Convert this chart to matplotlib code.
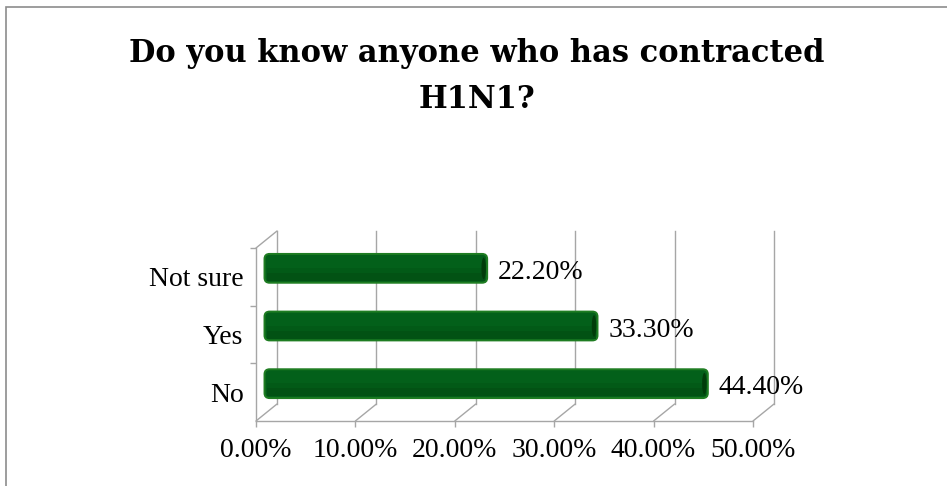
import matplotlib
matplotlib.use("Agg")
import matplotlib.pyplot as plt
import matplotlib.transforms as mtransforms
from matplotlib.patches import FancyBboxPatch, Ellipse, Rectangle

categories = ["No", "Yes", "Not sure"]
values = [44.4, 33.3, 22.2]
x_ticks = [0, 10, 20, 30, 40, 50]
x_labels = ["0.00%", "10.00%", "20.00%", "30.00%", "40.00%", "50.00%"]
title_lines = ["Do you know anyone who has contracted", "H1N1?"]

W, H, DPI = 947, 486, 100
SERIF = ["Liberation Serif", "DejaVu Serif"]
GRID = "#a6a6a6"

fig = plt.figure(figsize=(W / DPI, H / DPI), dpi=DPI)
fig.patch.set_facecolor("white")

# chart frame (only left/top edges fall inside the image)
fig.add_artist(Rectangle((6 / W, -0.1), 1.2, (H - 7) / H + 0.1,
                         transform=fig.transFigure, fill=False,
                         edgecolor="#8c8c8c", linewidth=1.2))

for line, base in zip(title_lines, (62, 108)):
    fig.text(477 / W, 1 - base / H, line, ha="center", va="baseline",
             fontsize=22, fontweight="bold", family=["DejaVu Serif"])

# front plane of the 3-D box
x0, x1, ytop, ybot = 256, 753, 248, 421
ax = fig.add_axes([x0 / W, 1 - ybot / H, (x1 - x0) / W, (ybot - ytop) / H])
ax.set_xlim(0, 50)
ax.set_ylim(-0.5, len(categories) - 0.5)
for s in ax.spines.values():
    s.set_visible(False)
ax.patch.set_visible(False)

depth_x, depth_y = 21, 17
back = ax.transData + mtransforms.ScaledTranslation(depth_x / DPI, depth_y / DPI, fig.dpi_scale_trans)
mid = ax.transData + mtransforms.ScaledTranslation(depth_x / 2 / DPI, depth_y / 2 / DPI, fig.dpi_scale_trans)

lo, hi = -0.5, len(categories) - 0.5


def depth_line(x, y):
    # connect a point on the front plane to the same point on the back wall
    ax.annotate("", xy=(x, y), xycoords=back, xytext=(x, y), textcoords="data",
                arrowprops=dict(arrowstyle="-", color=GRID, lw=1, shrinkA=0, shrinkB=0))


# back wall gridlines
for t in x_ticks:
    ax.plot([t, t], [lo, hi], color=GRID, lw=1, transform=back, clip_on=False)

# floor: front edge and depth lines
ax.plot([0, 50], [lo, lo], color=GRID, lw=1, clip_on=False)
for t in x_ticks:
    depth_line(t, lo)

# left wall
ax.plot([0, 0], [lo, hi], color=GRID, lw=1, clip_on=False)
depth_line(0, hi)

ax.set_xticks(x_ticks)
ax.set_xticklabels(x_labels, family=SERIF, fontsize=20)
ax.set_yticks([k + 0.5 for k in range(len(categories) - 1)] + [hi])
ax.set_yticklabels([])
ax.set_yticks(range(len(categories)), minor=True)
ax.set_yticklabels(categories, minor=True, family=SERIF, fontsize=20)
ax.tick_params(axis="x", length=4, width=1, color=GRID, pad=8)
ax.tick_params(axis="y", which="major", length=4, width=1, color=GRID)
ax.tick_params(axis="y", which="minor", length=0, pad=9)

# cylinder-style bars on the middle depth plane
bar_h = 0.5
px_x = (x1 - x0) / 50.0
px_y = (ybot - ytop) / len(categories)
r = 5 / px_x
aspect = px_x / px_y
for i, v in enumerate(values):
    body = FancyBboxPatch((-r * 0.4, i - bar_h / 2), v + r * 0.4, bar_h,
                          boxstyle=f"round,pad=0,rounding_size={r}",
                          mutation_aspect=aspect, facecolor="#03601a",
                          edgecolor="#1f7d22", linewidth=1.4,
                          transform=mid, clip_on=False, zorder=3)
    ax.add_patch(body)
    # two soft bands for the darker underside of the cylinder
    for frac, col in ((0.45, "#025a17"), (0.28, "#025214")):
        shade = FancyBboxPatch((0.1, i - bar_h / 2 + 0.03), v - 0.3, bar_h * frac,
                               boxstyle="square,pad=0", facecolor=col,
                               edgecolor="none", transform=mid, clip_on=False, zorder=3)
        ax.add_patch(shade)
    cap = Ellipse((v - 0.35, i), 0.45, bar_h * 0.75, facecolor="#013c0a",
                  edgecolor="none", transform=mid, clip_on=False, zorder=4)
    ax.add_patch(cap)
    ax.annotate(f"{v:.2f}%", xy=(v, i), xycoords=mid, xytext=(11, -4),
                textcoords="offset pixels", ha="left", va="center",
                family=SERIF, fontsize=20)

fig.savefig("out.png", dpi=DPI, facecolor="white")
